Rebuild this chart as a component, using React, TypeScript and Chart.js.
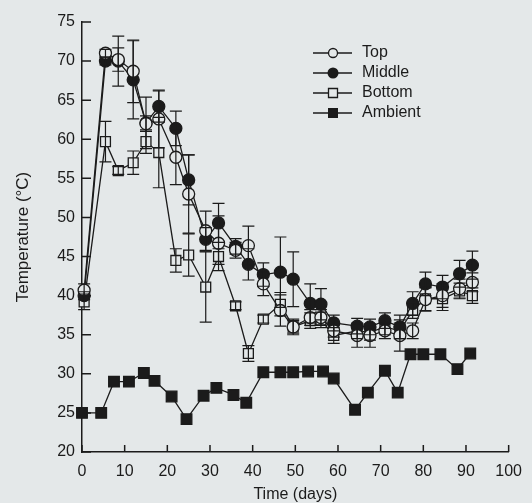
import React, { useEffect, useRef } from "react";
import { Chart, registerables } from "chart.js";

Chart.register(...registerables);

// ---- data ----
const compostDays = [0.5, 5.5, 8.5, 12, 15, 18, 22, 25, 29, 32, 36, 39, 42.5, 46.5, 49.5, 53.5, 56, 59, 64.5, 67.5, 71, 74.5, 77.5, 80.5, 84.5, 88.5, 91.5];
const topTemp = [40.7, 71.0, 70.2, 68.7, 62.0, 62.6, 57.7, 53.0, 48.3, 46.7, 45.8, 46.4, 41.5, 38.1, 36.0, 37.2, 37.2, 35.5, 34.9, 34.9, 35.5, 34.9, 35.5, 39.5, 40.0, 40.9, 41.7];
const topErr = [0.8, 0.5, 1.5, 4.0, 1.0, 3.7, 3.5, 5.0, 2.5, 3.5, 1.0, 2.5, 1.5, 2.0, 0.8, 1.0, 1.0, 0.8, 1.5, 1.5, 1.0, 2.0, 1.0, 1.5, 1.5, 1.2, 1.2];
const middleTemp = [40.0, 70.0, 70.0, 67.6, 62.1, 64.2, 61.4, 54.8, 47.2, 49.3, 46.3, 44.0, 42.7, 43.0, 42.1, 39.0, 38.9, 36.5, 36.1, 36.0, 36.8, 36.0, 39.0, 41.5, 41.1, 42.8, 43.9];
const middleErr = [0.5, 0.5, 3.2, 5.0, 3.3, 2.0, 2.2, 3.2, 1.5, 2.5, 1.0, 2.0, 1.5, 4.5, 3.5, 2.5, 2.0, 1.0, 1.0, 1.0, 1.0, 1.5, 1.5, 1.5, 1.5, 1.7, 1.8];
const bottomTemp = [39.2, 59.7, 56.0, 57.0, 59.7, 58.3, 44.5, 45.2, 41.1, 45.0, 38.7, 32.6, 37.0, 38.9, 36.0, 36.8, 36.9, 34.9, 35.5, 35.3, 36.0, 35.5, 38.1, 39.6, 39.6, 40.6, 40.0];
const bottomErr = [1.0, 2.6, 0.5, 1.5, 1.5, 4.5, 1.5, 2.7, 4.5, 1.0, 0.5, 1.0, 0.5, 1.5, 1.0, 1.0, 1.0, 1.0, 1.0, 1.0, 1.0, 1.0, 1.0, 1.5, 1.5, 1.0, 1.0];
const ambientDays = [0, 4.5, 7.5, 11, 14.5, 17, 21, 24.5, 28.5, 31.5, 35.5, 38.5, 42.5, 46.5, 49.5, 53, 56.5, 59, 64, 67, 71, 74, 77, 80, 84, 88, 91];
const ambientTemp = [25.0, 25.0, 29.0, 29.0, 30.1, 29.1, 27.1, 24.2, 27.2, 28.2, 27.3, 26.3, 30.2, 30.2, 30.2, 30.3, 30.3, 29.4, 25.4, 27.6, 30.4, 27.6, 32.5, 32.5, 32.5, 30.6, 32.6];

const seriesNames = ["Top", "Middle", "Bottom", "Ambient"];
const xMin = 0, xMax = 100, xStep = 10;
const yMin = 20, yMax = 75, yStep = 5;
const xTitle = "Time (days)";
const yTitle = "Temperature (°C)";

const INK = "#1b1b1b";
const BG = "#e4e8e9";
const FONT = "'Liberation Sans', Arial, sans-serif";

const toPts = (xs: number[], ys: number[]) => xs.map((x, i) => ({ x, y: ys[i] }));

const errorSets = [topErr, middleErr, bottomErr];

const errorBarPlugin = {
  id: "errorBars",
  afterDatasetsDraw(chart: any) {
    const ctx = chart.ctx;
    const ys = chart.scales.y;
    ctx.save();
    ctx.strokeStyle = INK;
    ctx.lineWidth = 1.2;
    errorSets.forEach((errs, di) => {
      const meta = chart.getDatasetMeta(di);
      const ds = chart.data.datasets[di];
      meta.data.forEach((pt: any, j: number) => {
        const v = ds.data[j].y;
        const e = errs[j];
        if (!e) return;
        const x = pt.x;
        const y1 = ys.getPixelForValue(v + e);
        const y2 = ys.getPixelForValue(v - e);
        ctx.beginPath();
        ctx.moveTo(x, y1); ctx.lineTo(x, y2);
        ctx.moveTo(x - 6, y1); ctx.lineTo(x + 6, y1);
        ctx.moveTo(x - 6, y2); ctx.lineTo(x + 6, y2);
        ctx.stroke();
      });
    });
    ctx.restore();
  },
};

const axisTickPlugin = {
  id: "innerTicks",
  afterDraw(chart: any) {
    const ctx = chart.ctx;
    const { left, bottom } = chart.chartArea;
    const xs = chart.scales.x;
    const ys = chart.scales.y;
    ctx.save();
    ctx.strokeStyle = INK;
    ctx.lineWidth = 1.5;
    ctx.beginPath();
    for (let v = yMin; v <= yMax; v += yStep) {
      const y = ys.getPixelForValue(v);
      ctx.moveTo(left, y); ctx.lineTo(left + 9, y);
    }
    for (let v = xMin; v <= xMax; v += xStep) {
      const x = xs.getPixelForValue(v);
      ctx.moveTo(x, bottom); ctx.lineTo(x, bottom - 7);
    }
    ctx.stroke();
    ctx.restore();
  },
};

const legendPlugin = {
  id: "customLegend",
  afterDraw(chart: any) {
    const ctx = chart.ctx;
    const x0 = 313, x1 = 352, mx = 333, tx = 362;
    const rows = [53, 73, 93, 113];
    ctx.save();
    ctx.font = `16px ${FONT}`;
    ctx.textBaseline = "middle";
    ctx.fillStyle = INK;
    chart.data.datasets.forEach((ds: any, i: number) => {
      const y = rows[i];
      ctx.strokeStyle = INK;
      ctx.lineWidth = 1.3;
      ctx.beginPath(); ctx.moveTo(x0, y); ctx.lineTo(x1, y); ctx.stroke();
      ctx.beginPath();
      if (i === 0) {
        ctx.arc(mx, y, 4.5, 0, Math.PI * 2);
        ctx.fillStyle = BG; ctx.fill(); ctx.stroke();
      } else if (i === 1) {
        ctx.arc(mx, y, 5.5, 0, Math.PI * 2);
        ctx.fillStyle = INK; ctx.fill();
      } else if (i === 2) {
        ctx.rect(mx - 4.5, y - 4.5, 9, 9);
        ctx.fillStyle = BG; ctx.fill(); ctx.stroke();
      } else {
        ctx.rect(mx - 5, y - 5, 10, 10);
        ctx.fillStyle = INK; ctx.fill();
      }
      ctx.fillStyle = INK;
      ctx.fillText(ds.label, tx, y);
    });
    ctx.restore();
  },
};

export default function App() {
  const ref = useRef<HTMLCanvasElement>(null);
  useEffect(() => {
    document.body.style.margin = "0";
    document.body.style.background = BG;
    const common = { borderColor: INK, borderWidth: 1.3, pointBorderColor: INK, pointBorderWidth: 1.3, clip: false as any, tension: 0 };
    const chart = new Chart(ref.current!, {
      type: "line",
      data: {
        datasets: [
          { ...common, label: seriesNames[0], data: toPts(compostDays, topTemp), pointStyle: "circle", pointRadius: 6, pointBackgroundColor: BG },
          { ...common, label: seriesNames[1], data: toPts(compostDays, middleTemp), pointStyle: "circle", pointRadius: 6, pointBackgroundColor: INK },
          { ...common, label: seriesNames[2], data: toPts(compostDays, bottomTemp), pointStyle: "rect", pointRadius: 7, pointBackgroundColor: BG },
          { ...common, label: seriesNames[3], data: toPts(ambientDays, ambientTemp), pointStyle: "rect", pointRadius: 7.5, pointBackgroundColor: INK },
        ],
      },
      options: {
        responsive: false,
        animation: false,
        events: [],
        layout: { padding: { left: 0, right: 14, top: 22, bottom: 0 } },
        plugins: { legend: { display: false }, tooltip: { enabled: false } },
        scales: {
          x: {
            type: "linear",
            min: xMin, max: xMax,
            grid: { display: false, drawTicks: false },
            border: { display: true, color: INK, width: 1.5 },
            ticks: { stepSize: xStep, color: INK, font: { family: FONT, size: 16 }, padding: 10, maxRotation: 0 },
            title: { display: true, text: xTitle, color: INK, font: { family: FONT, size: 16, lineHeight: 1 }, padding: { top: 0, bottom: 0 } },
            afterFit: (s: any) => { s.height = 51; },
          },
          y: {
            type: "linear",
            min: yMin, max: yMax,
            grid: { display: false, drawTicks: false },
            border: { display: true, color: INK, width: 1.5 },
            ticks: { stepSize: yStep, color: INK, font: { family: FONT, size: 16 }, padding: 7 },
            title: { display: true, text: yTitle, color: INK, font: { family: FONT, size: 17, lineHeight: 1 }, padding: { top: 15, bottom: 0 } },
            afterFit: (s: any) => { s.width = 82; },
          },
        },
      },
      plugins: [errorBarPlugin, axisTickPlugin, legendPlugin],
    } as any);
    return () => chart.destroy();
  }, []);
  return (
    <div style={{ position: "fixed", left: 0, top: 0, width: 532, height: 503, background: BG }}>
      <canvas ref={ref} width={532} height={503} style={{ display: "block" }} />
    </div>
  );
}
